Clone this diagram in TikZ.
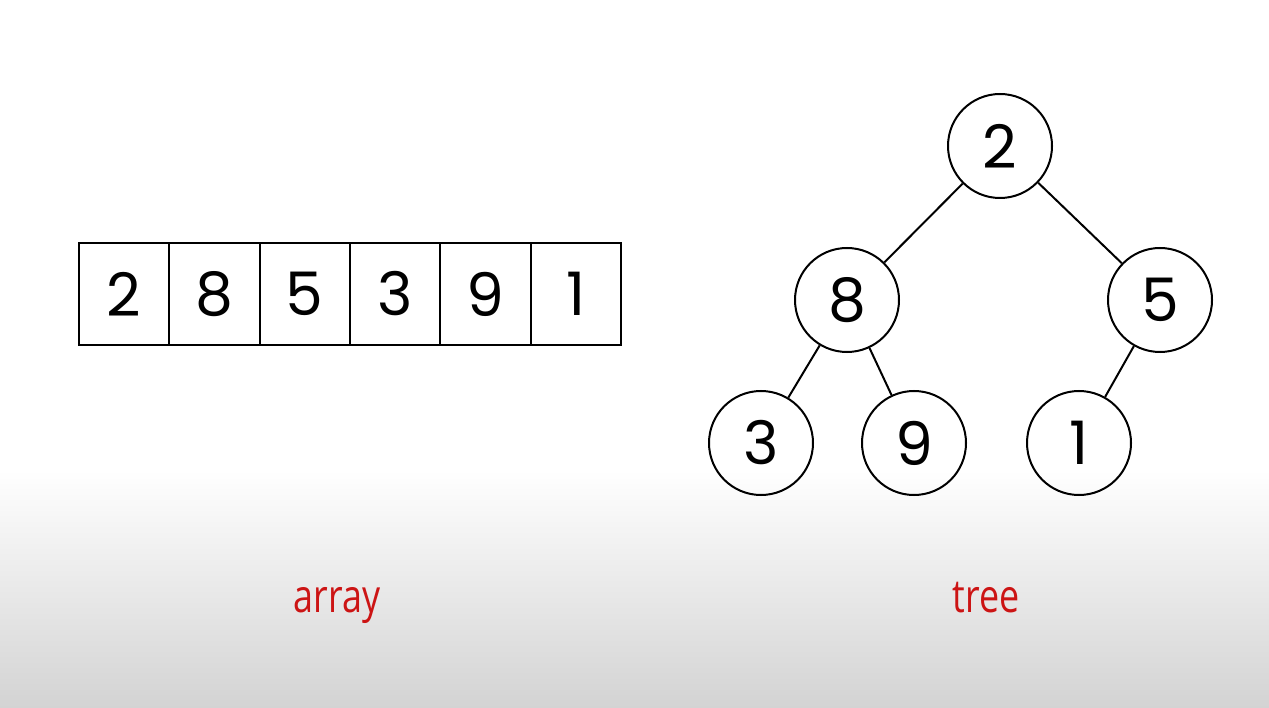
\documentclass[tikz,border=0pt]{standalone}
\usepackage{fontspec}
\setmainfont{Poppins}
\newfontfamily\labelfont[FakeStretch=0.78]{Open Sans}
\definecolor{labelred}{HTML}{CC1414}
\definecolor{bottomgray}{HTML}{D3D3D3}
\begin{document}
\begin{tikzpicture}[x=1pt,y=-1pt,
  cell/.style={draw=black,line width=2pt,outer sep=0pt,minimum width=90.3pt,minimum height=102pt,inner sep=0pt,anchor=west,font=\fontsize{60}{60}\selectfont},
  tnode/.style={draw=black,line width=2pt,circle,minimum size=104pt,inner sep=0pt,font=\fontsize{60}{60}\selectfont},
  edge/.style={line width=2pt,black},
  lbl/.style={text=labelred,anchor=base,inner sep=0pt,font=\labelfont\fontsize{46}{46}\selectfont}]
\useasboundingbox (0,0) rectangle (1269,708);
\fill[white] (0,0) rectangle (1269,470);
\shade[top color=white,bottom color=bottomgray] (0,470) rectangle (1269,708);
% array
\node[cell] (a1) at (79,294) {2};
\node[cell] (a2) at (a1.east) {8};
\node[cell] (a3) at (a2.east) {5};
\node[cell] (a4) at (a3.east) {3};
\node[cell] (a5) at (a4.east) {9};
\node[cell] (a6) at (a5.east) {1};
% tree
\node[tnode] (t2) at (1000,146) {2};
\node[tnode] (t8) at (847,300) {8};
\node[tnode] (t5) at (1160,300) {5};
\node[tnode] (t3) at (761,443) {3};
\node[tnode] (t9) at (914,443) {9};
\node[tnode] (t1) at (1079,443) {1};
\draw[edge] (t2) -- (t8);
\draw[edge] (t2) -- (t5);
\draw[edge] (t8) -- (t3);
\draw[edge] (t8) -- (t9);
\draw[edge] (t5) -- (t1);
% labels
\node[lbl] (la) at (337,612) {array};
\node[lbl] (lt) at (986,612) {tree};
\end{tikzpicture}
\end{document}
